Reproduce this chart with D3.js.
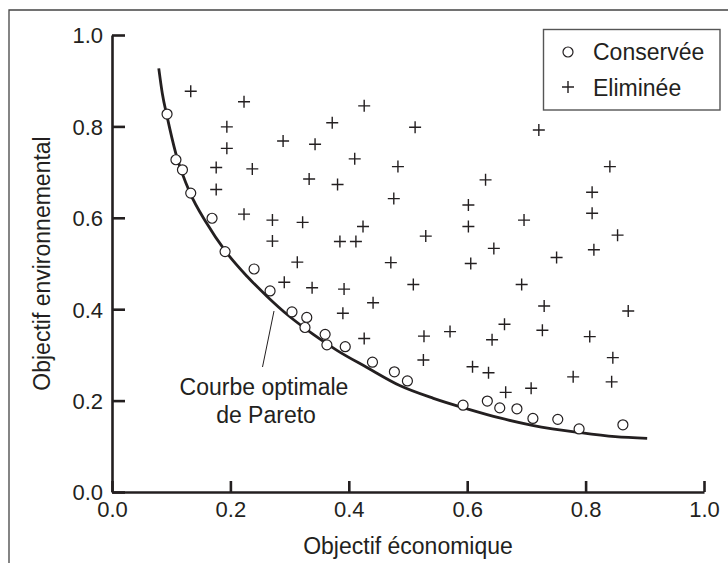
<!DOCTYPE html>
<html>
<head>
<meta charset="utf-8">
<script src="https://cdn.jsdelivr.net/npm/d3@7"></script>
<style>
  html, body { margin: 0; padding: 0; background: #fff; }
  svg { display: block; }
  text { font-family: "Liberation Sans", Arial, Helvetica, sans-serif; fill: #231f20; }
</style>
</head>
<body>
<svg id="chart" width="728" height="563"></svg>
<script>
// ---- Data ----
const xTicks = [0.0, 0.2, 0.4, 0.6, 0.8, 1.0];
const yTicks = [0.0, 0.2, 0.4, 0.6, 0.8, 1.0];
const xLabel = "Objectif économique";
const yLabel = "Objectif environnemental";
const legendLabels = ["Conservée", "Eliminée"];
const annotationLines = ["Courbe optimale", "de Pareto"];

// Conserved solutions (circles): [economic, environmental]
const conserveeX = [0.093, 0.108, 0.119, 0.133, 0.169, 0.191, 0.240, 0.267, 0.304, 0.329, 0.326, 0.360, 0.363, 0.394, 0.440, 0.477, 0.499, 0.593, 0.634, 0.655, 0.684, 0.711, 0.753, 0.789, 0.863];
const conserveeY = [0.827, 0.727, 0.705, 0.654, 0.599, 0.526, 0.488, 0.440, 0.394, 0.382, 0.360, 0.345, 0.322, 0.318, 0.284, 0.263, 0.243, 0.190, 0.199, 0.184, 0.182, 0.161, 0.159, 0.138, 0.147];

// Eliminated solutions (plus signs)
const elimineeX = [0.133, 0.223, 0.194, 0.194, 0.289, 0.343, 0.176, 0.237, 0.333, 0.176, 0.223, 0.271, 0.322, 0.271, 0.313, 0.291, 0.338, 0.426, 0.372, 0.512, 0.721, 0.410, 0.483, 0.381, 0.631, 0.476, 0.602, 0.811, 0.811, 0.424, 0.602, 0.696, 0.385, 0.412, 0.530, 0.645, 0.814, 0.751, 0.471, 0.606, 0.392, 0.509, 0.692, 0.441, 0.390, 0.426, 0.527, 0.571, 0.642, 0.526, 0.609, 0.636, 0.854, 0.730, 0.872, 0.663, 0.727, 0.807, 0.846, 0.779, 0.844, 0.665, 0.708, 0.841];
const elimineeY = [0.877, 0.854, 0.799, 0.752, 0.768, 0.761, 0.710, 0.707, 0.685, 0.662, 0.608, 0.595, 0.590, 0.549, 0.503, 0.459, 0.447, 0.845, 0.808, 0.798, 0.792, 0.729, 0.712, 0.673, 0.683, 0.642, 0.628, 0.656, 0.610, 0.581, 0.581, 0.595, 0.548, 0.548, 0.560, 0.533, 0.530, 0.513, 0.502, 0.500, 0.444, 0.454, 0.454, 0.414, 0.391, 0.336, 0.341, 0.351, 0.333, 0.289, 0.274, 0.261, 0.562, 0.407, 0.396, 0.367, 0.354, 0.340, 0.294, 0.252, 0.241, 0.218, 0.227, 0.712];

// Pareto optimal curve
const paretoX = [0.079, 0.085, 0.093, 0.108, 0.132, 0.160, 0.191, 0.228, 0.262, 0.300, 0.340, 0.380, 0.430, 0.486, 0.543, 0.600, 0.655, 0.710, 0.790, 0.850, 0.904];
const paretoY = [0.927, 0.872, 0.822, 0.740, 0.654, 0.588, 0.528, 0.472, 0.428, 0.384, 0.345, 0.310, 0.273, 0.233, 0.205, 0.182, 0.162, 0.146, 0.130, 0.121, 0.1175];

// ---- Layout ----
const svg = d3.select("#chart");
const ink = "#231f20";
const x = d3.scaleLinear().domain([0, 1]).range([112, 704]);
const y = d3.scaleLinear().domain([0, 1]).range([492, 35]);

// Outer frame (top and left edges visible)
svg.append("path")
  .attr("d", "M9,563 L9,10 L728,10")
  .attr("fill", "none").attr("stroke", "#444").attr("stroke-width", 1.3);

// Axes
const xAxis = d3.axisBottom(x).tickValues(xTicks).tickFormat(d3.format(".1f"))
  .tickSizeInner(-11).tickSizeOuter(0).tickPadding(9);
const yAxis = d3.axisLeft(y).tickValues(yTicks).tickFormat(d3.format(".1f"))
  .tickSizeInner(-13).tickSizeOuter(0).tickPadding(9);

const gx = svg.append("g").attr("transform", `translate(0,${y(0)})`).call(xAxis);
const gy = svg.append("g").attr("transform", `translate(${x(0)},0)`).call(yAxis);
[gx, gy].forEach(g => {
  g.select(".domain").attr("stroke", ink).attr("stroke-width", 2.6);
  g.selectAll(".tick line").attr("stroke", ink).attr("stroke-width", 2.6);
  g.selectAll(".tick text").attr("fill", ink).style("font-size", "22px")
    .style("font-family", '"Liberation Sans", Arial, sans-serif');
});
gy.selectAll(".tick text").attr("dy", "0.36em");

// Axis titles
svg.append("text").attr("x", 408).attr("y", 554).attr("text-anchor", "middle")
  .style("font-size", "23px").text(xLabel);
svg.append("text").attr("transform", `translate(50,${(y(0) + y(1)) / 2}) rotate(-90)`)
  .attr("text-anchor", "middle").style("font-size", "23px").text(yLabel);

// Pareto curve
const curvePts = paretoX.map((v, i) => [v, paretoY[i]]);
svg.append("path").datum(curvePts)
  .attr("d", d3.line().x(d => x(d[0])).y(d => y(d[1])).curve(d3.curveMonotoneX))
  .attr("fill", "none").attr("stroke", ink).attr("stroke-width", 2.8);

// Eliminated (plus)
const plusPath = "M-6,0H6M0,-6V6";
svg.append("g").selectAll("path").data(elimineeX.map((v, i) => [v, elimineeY[i]]))
  .join("path")
  .attr("transform", d => `translate(${x(d[0])},${y(d[1])})`)
  .attr("d", plusPath).attr("stroke", ink).attr("stroke-width", 1.4).attr("fill", "none");

// Conserved (circles)
svg.append("g").selectAll("circle").data(conserveeX.map((v, i) => [v, conserveeY[i]]))
  .join("circle")
  .attr("cx", d => x(d[0])).attr("cy", d => y(d[1])).attr("r", 5)
  .attr("fill", "#fff").attr("stroke", ink).attr("stroke-width", 1.2);

// Annotation
svg.append("line").attr("x1", 274).attr("y1", 311).attr("x2", 262.5).attr("y2", 367)
  .attr("stroke", ink).attr("stroke-width", 1);
svg.append("text").attr("x", 264).attr("y", 395).attr("text-anchor", "middle")
  .style("font-size", "23px").text(annotationLines[0]);
svg.append("text").attr("x", 266).attr("y", 423).attr("text-anchor", "middle")
  .style("font-size", "23px").text(annotationLines[1]);

// Legend
const lg = svg.append("g");
lg.append("rect").attr("x", 543.5).attr("y", 29.5).attr("width", 176.5).attr("height", 80.5)
  .attr("fill", "#fff").attr("stroke", "#555").attr("stroke-width", 1.4);
lg.append("circle").attr("cx", 568).attr("cy", 52).attr("r", 5)
  .attr("fill", "#fff").attr("stroke", ink).attr("stroke-width", 1.2);
lg.append("path").attr("transform", "translate(568,87)").attr("d", plusPath)
  .attr("stroke", ink).attr("stroke-width", 1.4);
lg.append("text").attr("x", 593).attr("y", 60).style("font-size", "23px").text(legendLabels[0]);
lg.append("text").attr("x", 593).attr("y", 96).style("font-size", "23px").text(legendLabels[1]);
</script>
</body>
</html>
